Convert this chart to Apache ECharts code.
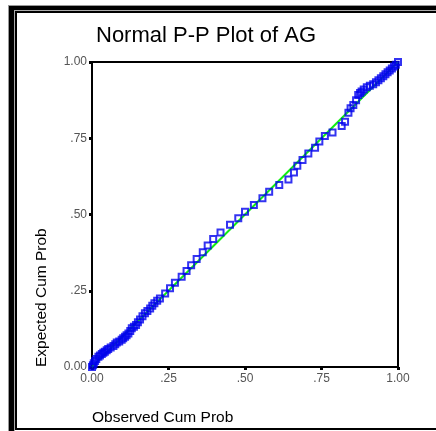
<!DOCTYPE html>
<html>
<head>
<meta charset="utf-8">
<script src="https://cdn.jsdelivr.net/npm/echarts@6/dist/echarts.min.js"></script>
<style>html,body{margin:0;padding:0;background:#fff;}#c{width:436px;height:431px;}</style>
</head>
<body>
<div id="c"></div>
<script>
var titleText = 'Normal P-P Plot of AG';
var xName = 'Observed Cum Prob';
var yName = 'Expected Cum Prob';
var tickValues = [0, 0.25, 0.5, 0.75, 1];
var tickLabels = ['0.00', '.25', '.50', '.75', '1.00'];
var observed = [0.000,0.003,0.006,0.010,0.014,0.021,0.026,0.032,0.037,0.042,0.048,0.053,0.061,0.070,0.076,0.081,0.089,0.097,0.102,0.108,0.113,0.119,0.125,0.130,0.137,0.144,0.150,0.157,0.165,0.173,0.181,0.190,0.197,0.204,0.213,0.222,0.239,0.255,0.271,0.293,0.309,0.324,0.342,0.362,0.378,0.396,0.420,0.451,0.478,0.500,0.529,0.557,0.579,0.612,0.642,0.660,0.671,0.688,0.707,0.729,0.743,0.761,0.786,0.816,0.827,0.838,0.845,0.854,0.863,0.870,0.876,0.881,0.888,0.898,0.908,0.919,0.928,0.936,0.944,0.952,0.959,0.966,0.973,0.980,0.987,0.993,1.000];
var expected = [0.000,0.006,0.012,0.020,0.026,0.034,0.038,0.043,0.047,0.050,0.055,0.059,0.064,0.069,0.075,0.080,0.084,0.089,0.094,0.099,0.104,0.110,0.118,0.127,0.132,0.138,0.147,0.156,0.166,0.176,0.184,0.192,0.201,0.209,0.217,0.225,0.241,0.258,0.276,0.296,0.315,0.334,0.354,0.376,0.398,0.420,0.441,0.466,0.488,0.509,0.531,0.553,0.575,0.597,0.615,0.638,0.660,0.679,0.700,0.719,0.739,0.757,0.769,0.790,0.804,0.834,0.848,0.859,0.875,0.892,0.898,0.903,0.910,0.917,0.922,0.927,0.934,0.940,0.947,0.953,0.960,0.966,0.972,0.979,0.985,0.991,1.000];
var refLine = [[0, 0], [1, 1]];

var points = observed.map(function (v, i) { return [v, expected[i]]; });
function fmt(v) {
  for (var i = 0; i < tickValues.length; i++) {
    if (Math.abs(v - tickValues[i]) < 1e-9) return tickLabels[i];
  }
  return '';
}
var FONT = 'Liberation Sans, Arial, sans-serif';
var axisCommon = {
  type: 'value', min: 0, max: 1, interval: 0.25,
  splitLine: { show: false },
  axisLine: { show: true, lineStyle: { color: '#000', width: 2 } },
  axisTick: { show: true, length: 3, lineStyle: { color: '#000', width: 3 } },
  axisLabel: { formatter: fmt, color: '#555', fontSize: 12, fontFamily: FONT, margin: 5 }
};
var chart = echarts.init(document.getElementById('c'), null, { renderer: 'canvas' });
chart.setOption({
  animation: false,
  backgroundColor: '#fff',
  title: {
    text: titleText, left: 91, top: 20,
    textStyle: { fontSize: 22, fontWeight: 'normal', color: '#000', fontFamily: FONT }
  },
  grid: { left: 92, top: 62, width: 306, height: 305, show: true, borderColor: '#000', borderWidth: 2, backgroundColor: 'transparent' },
  xAxis: Object.assign({}, axisCommon, { axisLabel: Object.assign({}, axisCommon.axisLabel, { margin: 6 }) }),
  yAxis: Object.assign({}, axisCommon),
  graphic: [
    { type: 'rect', shape: { x: 8, y: 5, width: 428, height: 1 }, style: { fill: '#999' } },
    { type: 'rect', shape: { x: 8, y: 5, width: 1, height: 426 }, style: { fill: '#999' } },
    { type: 'rect', shape: { x: 9, y: 6, width: 427, height: 4 }, style: { fill: '#000' } },
    { type: 'rect', shape: { x: 9, y: 6, width: 5, height: 425 }, style: { fill: '#000' } },
    { type: 'rect', shape: { x: 14, y: 10, width: 422, height: 1 }, style: { fill: '#aaa' } },
    { type: 'rect', shape: { x: 14, y: 10, width: 1, height: 421 }, style: { fill: '#aaa' } },
    { type: 'rect', shape: { x: 15, y: 11, width: 421, height: 2 }, style: { fill: '#000' } },
    { type: 'rect', shape: { x: 15, y: 11, width: 2, height: 418 }, style: { fill: '#000' } },
    { type: 'rect', shape: { x: 15, y: 428, width: 421, height: 2 }, style: { fill: '#000' } },
    { type: 'text', x: 92, y: 418, style: { text: xName, font: '15.5px ' + FONT, fill: '#000', textAlign: 'left', textVerticalAlign: 'middle' } },
    { type: 'text', x: 42, y: 367, rotation: Math.PI / 2, style: { text: yName, font: '15.5px ' + FONT, fill: '#000', textAlign: 'left', textVerticalAlign: 'middle' } }
  ],
  series: [
    { type: 'line', data: refLine, symbol: 'none', lineStyle: { color: '#11ee11', width: 2 }, z: 2 },
    { type: 'scatter', data: points, symbol: 'rect', symbolSize: 6,
      itemStyle: { color: 'rgba(0,0,0,0)', borderColor: '#0000ee', borderWidth: 2 }, z: 3 }
  ]
});
</script>
</body>
</html>
